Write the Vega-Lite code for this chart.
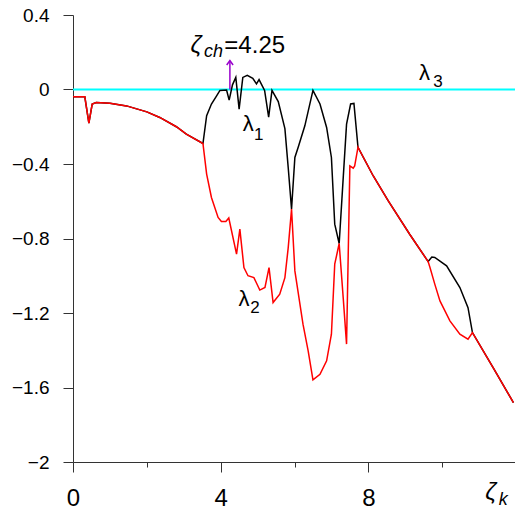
{
  "$schema": "https://vega.github.io/schema/vega-lite/v6.json",
  "width": 443,
  "height": 447,
  "autosize": "none",
  "padding": {"left": 73, "top": 15, "right": 0, "bottom": 52},
  "data": {"values": [{"k": 1}]},
  "config": {
    "view": {"stroke": null},
    "axis": {
      "domainColor": "#333333",
      "tickColor": "#333333",
      "labelFont": "Liberation Sans",
      "labelColor": "#000000",
      "grid": false,
      "labelPadding": 14,
      "labelOverlap": false,
      "labelFlush": false
    }
  },
  "datasets": {
    "l1": [
      {"x": 0, "y": -0.039}, {"x": 0.32, "y": -0.039}, {"x": 0.43, "y": -0.18}, {"x": 0.52, "y": -0.078},
      {"x": 0.63, "y": -0.07}, {"x": 1.0, "y": -0.074}, {"x": 1.45, "y": -0.088}, {"x": 2.0, "y": -0.12},
      {"x": 2.35, "y": -0.15}, {"x": 2.8, "y": -0.2}, {"x": 3.07, "y": -0.24}, {"x": 3.52, "y": -0.29},
      {"x": 3.62, "y": -0.141}, {"x": 3.75, "y": -0.078}, {"x": 3.89, "y": -0.034}, {"x": 3.98, "y": -0.005},
      {"x": 4.16, "y": -0.003}, {"x": 4.23, "y": -0.057}, {"x": 4.32, "y": 0.025}, {"x": 4.41, "y": 0.065},
      {"x": 4.5, "y": -0.105}, {"x": 4.6, "y": 0.065}, {"x": 4.72, "y": 0.076}, {"x": 4.87, "y": 0.06},
      {"x": 4.97, "y": 0.03}, {"x": 5.04, "y": 0.053}, {"x": 5.19, "y": -0.005}, {"x": 5.3, "y": -0.148},
      {"x": 5.39, "y": -0.005}, {"x": 5.56, "y": -0.065}, {"x": 5.74, "y": -0.21}, {"x": 5.83, "y": -0.42},
      {"x": 5.92, "y": -0.642}, {"x": 6.01, "y": -0.365}, {"x": 6.1, "y": -0.31}, {"x": 6.28, "y": -0.195},
      {"x": 6.5, "y": -0.005}, {"x": 6.69, "y": -0.078}, {"x": 6.87, "y": -0.204}, {"x": 7.0, "y": -0.365},
      {"x": 7.09, "y": -0.723}, {"x": 7.21, "y": -0.827}, {"x": 7.32, "y": -0.473}, {"x": 7.41, "y": -0.186},
      {"x": 7.52, "y": -0.078}, {"x": 7.61, "y": -0.075}, {"x": 7.72, "y": -0.31}, {"x": 8.13, "y": -0.463},
      {"x": 8.54, "y": -0.598}, {"x": 9.12, "y": -0.777}, {"x": 9.62, "y": -0.924}, {"x": 9.72, "y": -0.9},
      {"x": 9.8, "y": -0.902}, {"x": 10.12, "y": -0.947}, {"x": 10.48, "y": -1.063}, {"x": 10.7, "y": -1.171},
      {"x": 10.82, "y": -1.305}, {"x": 11.4, "y": -1.5}, {"x": 11.93, "y": -1.681}
    ],
    "l2": [
      {"x": 0, "y": -0.039}, {"x": 0.32, "y": -0.039}, {"x": 0.43, "y": -0.18}, {"x": 0.52, "y": -0.078},
      {"x": 0.63, "y": -0.07}, {"x": 1.0, "y": -0.074}, {"x": 1.45, "y": -0.088}, {"x": 2.0, "y": -0.12},
      {"x": 2.35, "y": -0.15}, {"x": 2.8, "y": -0.2}, {"x": 3.07, "y": -0.24}, {"x": 3.52, "y": -0.29},
      {"x": 3.62, "y": -0.454}, {"x": 3.75, "y": -0.58}, {"x": 3.93, "y": -0.687}, {"x": 4.02, "y": -0.709},
      {"x": 4.14, "y": -0.709}, {"x": 4.22, "y": -0.69}, {"x": 4.43, "y": -0.884}, {"x": 4.52, "y": -0.75},
      {"x": 4.63, "y": -0.956}, {"x": 4.74, "y": -1.0}, {"x": 4.9, "y": -1.01}, {"x": 5.06, "y": -1.077},
      {"x": 5.2, "y": -1.063}, {"x": 5.31, "y": -0.956}, {"x": 5.42, "y": -1.144}, {"x": 5.6, "y": -1.099},
      {"x": 5.74, "y": -1.01}, {"x": 5.83, "y": -0.849}, {"x": 5.92, "y": -0.642}, {"x": 6.01, "y": -0.974},
      {"x": 6.23, "y": -1.26}, {"x": 6.37, "y": -1.403}, {"x": 6.5, "y": -1.559}, {"x": 6.69, "y": -1.529},
      {"x": 6.87, "y": -1.457}, {"x": 7.0, "y": -1.314}, {"x": 7.09, "y": -0.938}, {"x": 7.21, "y": -0.827},
      {"x": 7.32, "y": -1.12}, {"x": 7.41, "y": -1.367}, {"x": 7.5, "y": -0.41}, {"x": 7.59, "y": -0.422},
      {"x": 7.63, "y": -0.41}, {"x": 7.72, "y": -0.31}, {"x": 8.13, "y": -0.463}, {"x": 8.54, "y": -0.598},
      {"x": 9.12, "y": -0.777}, {"x": 9.62, "y": -0.924}, {"x": 9.67, "y": -0.956}, {"x": 9.8, "y": -1.045},
      {"x": 9.94, "y": -1.135}, {"x": 10.21, "y": -1.242}, {"x": 10.48, "y": -1.314}, {"x": 10.7, "y": -1.341},
      {"x": 10.82, "y": -1.305}, {"x": 11.4, "y": -1.5}, {"x": 11.93, "y": -1.681}
    ]
  },
  "layer": [
    {
      "mark": {"type": "rule", "color": "#00ffff", "strokeWidth": 2},
      "encoding": {
        "y": {
          "datum": 0,
          "type": "quantitative",
          "scale": {"domain": [-2, 0.4], "nice": false, "zero": false},
          "axis": {
            "title": null,
            "labelFontSize": 19,
            "labelPadding": 14,
            "values": [-2, -1.8, -1.6, -1.4, -1.2, -1, -0.8, -0.6, -0.4, -0.2, 0, 0.2, 0.4],
            "labelExpr": "indexof([-2,-1.6,-1.2,-0.8,-0.4,0,0.4], datum.value) >= 0 ? replace('' + datum.value, '-', '−') : ''",
            "tickSize": {"condition": {"test": "indexof([-2,-1.6,-1.2,-0.8,-0.4,0,0.4], datum.value) >= 0", "value": 10}, "value": 4}
          }
        }
      }
    },
    {
      "data": {"name": "l1"},
      "mark": {"type": "line", "color": "#000000", "strokeWidth": 1.5},
      "encoding": {
        "x": {
          "field": "x",
          "type": "quantitative",
          "scale": {"domain": [0, 12], "nice": false, "zero": false},
          "axis": {
            "title": null,
            "labelFontSize": 24,
            "labelPadding": 14,
            "values": [0, 2, 4, 6, 8, 10],
            "labelExpr": "datum.value % 4 == 0 ? '' + datum.value : ''",
            "tickSize": {"condition": {"test": "datum.value % 4 == 0", "value": 10}, "value": 5}
          }
        },
        "y": {"field": "y", "type": "quantitative"}
      }
    },
    {
      "data": {"name": "l2"},
      "mark": {"type": "line", "color": "#ff0000", "strokeWidth": 1.5},
      "encoding": {
        "x": {"field": "x", "type": "quantitative"},
        "y": {"field": "y", "type": "quantitative"}
      }
    },
    {
      "mark": {"type": "rule", "color": "#9900cc", "strokeWidth": 1.5},
      "encoding": {
        "x": {"datum": 4.25, "type": "quantitative"},
        "y": {"datum": 0, "type": "quantitative"},
        "y2": {"datum": 0.155}
      }
    },
    {
      "mark": {"type": "point", "shape": "M-0.8,1.1L0,0L0.8,1.1", "filled": false, "color": "#9900cc", "strokeWidth": 1.5, "size": 64, "opacity": 1},
      "encoding": {
        "x": {"datum": 4.25, "type": "quantitative"},
        "y": {"datum": 0.155, "type": "quantitative"}
      }
    },
    {
      "mark": {"type": "text", "text": "ζ", "font": "Liberation Sans", "fontStyle": "italic", "fontSize": 24, "align": "left", "baseline": "alphabetic", "color": "#000000"},
      "encoding": {"x": {"datum": 3.18, "type": "quantitative"}, "y": {"datum": 0.196, "type": "quantitative"}}
    },
    {
      "mark": {"type": "text", "text": "ch", "font": "Liberation Sans", "fontStyle": "italic", "fontSize": 18, "align": "left", "baseline": "alphabetic", "color": "#000000"},
      "encoding": {"x": {"datum": 3.55, "type": "quantitative"}, "y": {"datum": 0.176, "type": "quantitative"}}
    },
    {
      "mark": {"type": "text", "text": "=4.25", "font": "Liberation Sans", "fontSize": 24, "align": "left", "baseline": "alphabetic", "color": "#000000"},
      "encoding": {"x": {"datum": 4.1, "type": "quantitative"}, "y": {"datum": 0.196, "type": "quantitative"}}
    },
    {
      "mark": {"type": "text", "text": "λ", "font": "Liberation Sans", "fontSize": 22, "align": "left", "baseline": "alphabetic", "color": "#000000"},
      "encoding": {"x": {"datum": 4.6, "type": "quantitative"}, "y": {"datum": -0.225, "type": "quantitative"}}
    },
    {
      "mark": {"type": "text", "text": "1", "font": "Liberation Sans", "fontSize": 17, "align": "left", "baseline": "alphabetic", "color": "#000000"},
      "encoding": {"x": {"datum": 4.9, "type": "quantitative"}, "y": {"datum": -0.27, "type": "quantitative"}}
    },
    {
      "mark": {"type": "text", "text": "λ", "font": "Liberation Sans", "fontSize": 22, "align": "left", "baseline": "alphabetic", "color": "#000000"},
      "encoding": {"x": {"datum": 4.48, "type": "quantitative"}, "y": {"datum": -1.16, "type": "quantitative"}}
    },
    {
      "mark": {"type": "text", "text": "2", "font": "Liberation Sans", "fontSize": 17, "align": "left", "baseline": "alphabetic", "color": "#000000"},
      "encoding": {"x": {"datum": 4.8, "type": "quantitative"}, "y": {"datum": -1.2, "type": "quantitative"}}
    },
    {
      "mark": {"type": "text", "text": "λ", "font": "Liberation Sans", "fontSize": 22, "align": "left", "baseline": "alphabetic", "color": "#000000"},
      "encoding": {"x": {"datum": 9.37, "type": "quantitative"}, "y": {"datum": 0.051, "type": "quantitative"}}
    },
    {
      "mark": {"type": "text", "text": "3", "font": "Liberation Sans", "fontSize": 17, "align": "left", "baseline": "alphabetic", "color": "#000000"},
      "encoding": {"x": {"datum": 9.76, "type": "quantitative"}, "y": {"datum": 0.013, "type": "quantitative"}}
    },
    {
      "mark": {"type": "text", "text": "ζ", "font": "Liberation Sans", "fontStyle": "italic", "fontSize": 24, "align": "left", "baseline": "alphabetic", "color": "#000000"},
      "encoding": {"x": {"datum": 11.17, "type": "quantitative"}, "y": {"datum": -2.204, "type": "quantitative"}}
    },
    {
      "mark": {"type": "text", "text": "k", "font": "Liberation Sans", "fontStyle": "italic", "fontSize": 18, "align": "left", "baseline": "alphabetic", "color": "#000000"},
      "encoding": {"x": {"datum": 11.53, "type": "quantitative"}, "y": {"datum": -2.231, "type": "quantitative"}}
    }
  ]
}
